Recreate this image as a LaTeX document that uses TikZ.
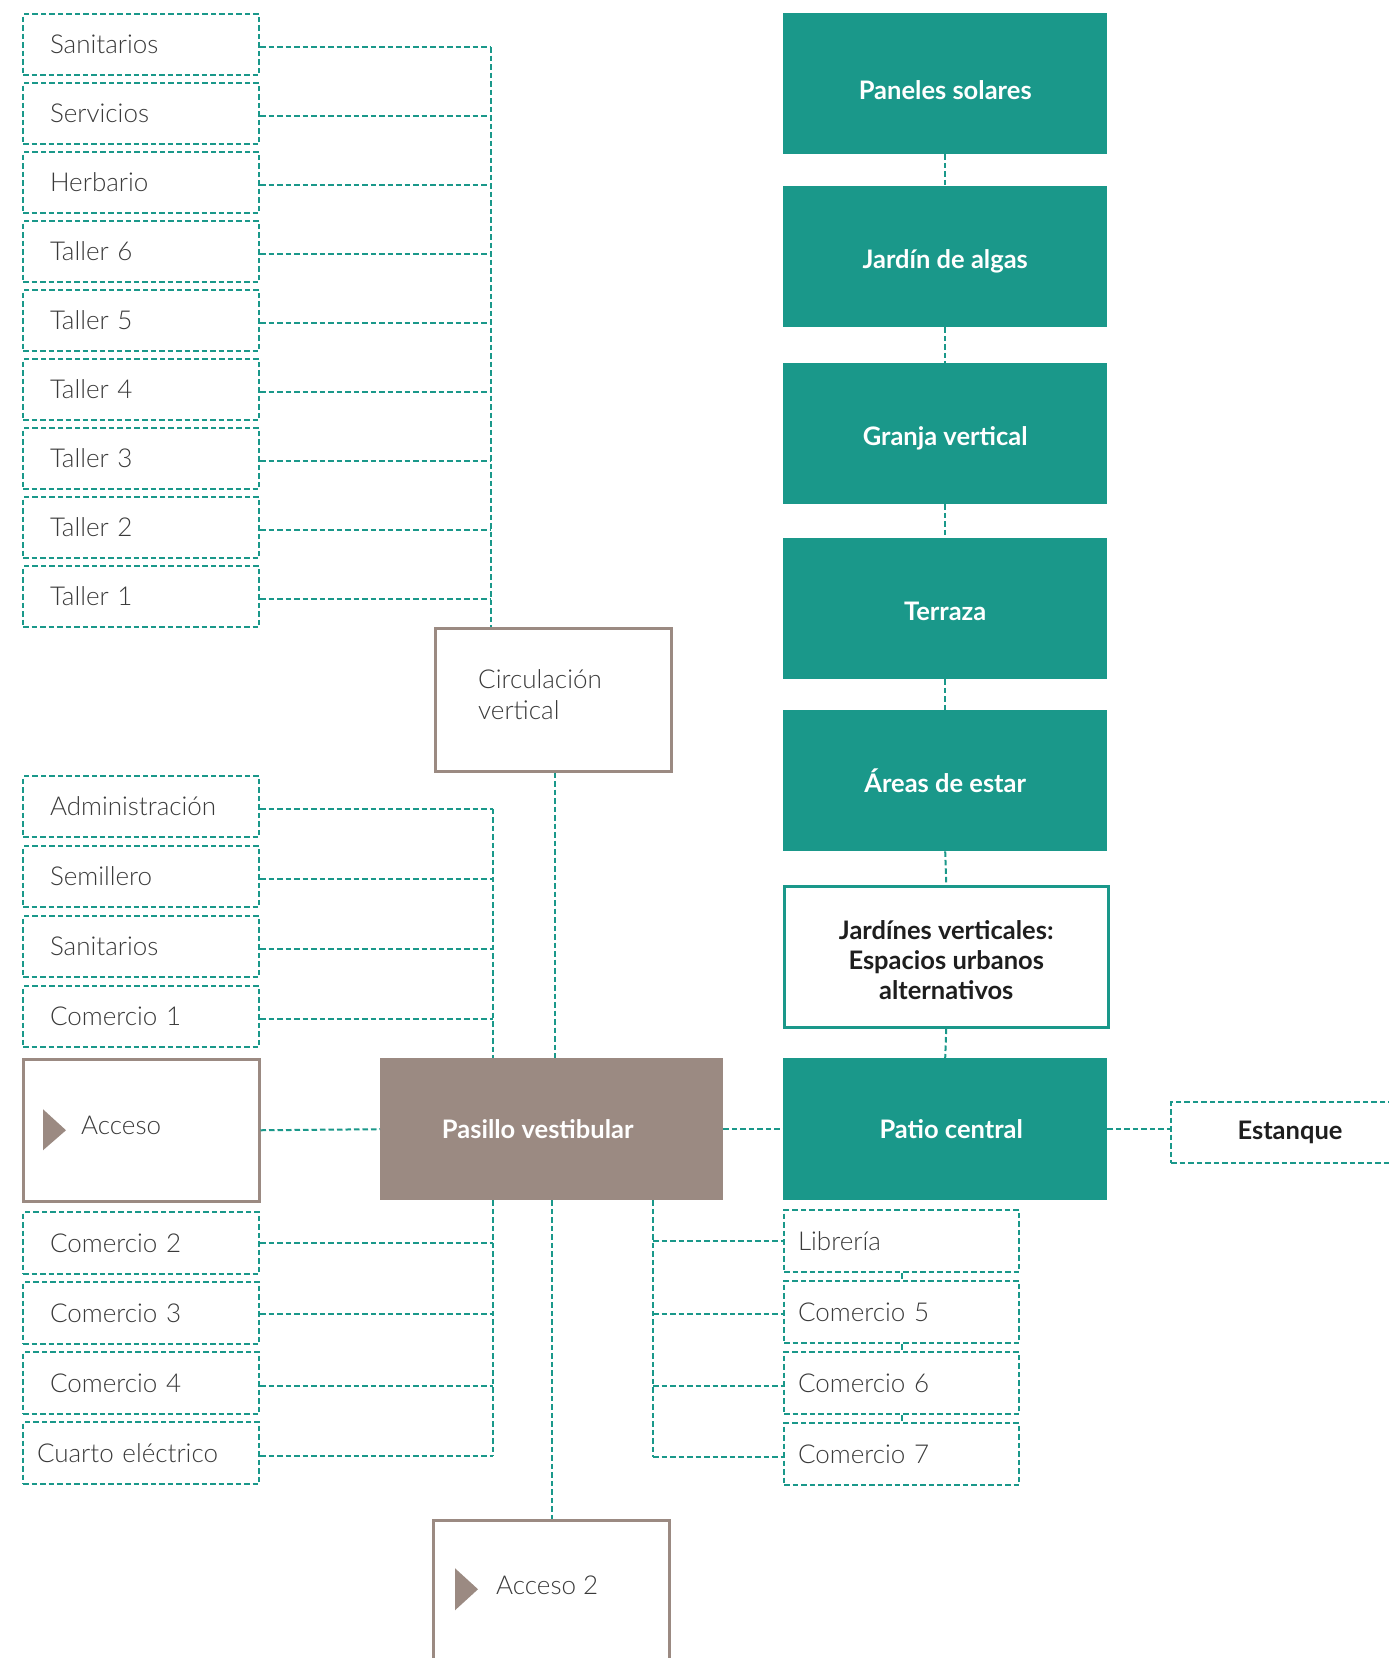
\documentclass[tikz,border=0pt]{standalone}
\usepackage{fontspec}
\setmainfont{Lato}[UprightFont={* Light},BoldFont={* Bold}]
\definecolor{teal1}{HTML}{1A988A}
\definecolor{brn}{HTML}{9B8A82}
\definecolor{txt}{HTML}{3A3A3A}
\definecolor{dark}{HTML}{1E1E1E}
\begin{document}
\begin{tikzpicture}[x=1pt,y=-1pt,
  conn/.style={draw=teal1, line width=2pt, dash pattern=on 5.5pt off 3pt},
  lbox/.style={conn, rectangle, anchor=north west, minimum height=61pt, inner xsep=27pt, inner ysep=0pt, text width=182pt, align=left, font=\fontsize{26}{30}\selectfont, text=txt},
  rbox/.style={conn, rectangle, anchor=north west, minimum height=62pt, inner xsep=14pt, inner ysep=0pt, text width=207pt, align=left, font=\fontsize{26}{30}\selectfont, text=txt},
  tbox/.style={fill=teal1, rectangle, anchor=north west, minimum width=324pt, minimum height=141pt, inner sep=0pt, text=white, align=center, text height=24pt, text depth=0pt, font=\bfseries\fontsize{25.5}{30.5}\selectfont},
  bbox/.style={draw=brn, line width=2.5pt, fill=white, rectangle, anchor=north west, inner sep=0pt},
  ltxt/.style={anchor=west, inner sep=0pt, text=txt, font=\fontsize{26}{30}\selectfont},
  wtxt/.style={inner sep=0pt, text=white, font=\bfseries\fontsize{25.5}{30}\selectfont},
  dtxt/.style={inner sep=0pt, text=dark, font=\bfseries\fontsize{25.5}{30}\selectfont}
]
\useasboundingbox (0,0) rectangle (1389,1658);
\fill[white] (0,0) rectangle (1389,1658);
\clip (0,0) rectangle (1389,1658);

% ---------- top-left group ----------
\node[lbox] (a1) at (22,13) {Sanitarios};
\node[lbox] (a2) at (22,82) {Servicios};
\node[lbox] (a3) at (22,151) {Herbario};
\node[lbox] (a4) at (22,220) {Taller 6};
\node[lbox] (a5) at (22,289) {Taller 5};
\node[lbox] (a6) at (22,358) {Taller 4};
\node[lbox] (a7) at (22,427) {Taller 3};
\node[lbox] (a8) at (22,496) {Taller 2};
\node[lbox] (a9) at (22,565) {Taller 1};

% ---------- circulation ----------
\node[bbox, minimum width=236pt, minimum height=143pt] (circ) at (434,627) {};
\node[anchor=west, inner sep=0pt, align=left, text=txt, font=\fontsize{26}{30.5}\selectfont] (circt) at ([xshift=44pt,yshift=5pt]circ.west) {Circulación\\vertical};

\coordinate (vA) at (491,0);
\foreach \n in {a1,a2,a3,a4,a5,a6,a7,a8,a9}
  \draw[conn] ([yshift=-2.5pt]\n.east) -- ([yshift=-2.5pt]\n.east -| vA);
\draw[conn] ([yshift=-2.5pt]a1.east -| vA) -- (circ.north -| vA);

% ---------- second group ----------
\node[lbox] (b1) at (22,775) {Administración};
\node[lbox] (b2) at (22,845) {Semillero};
\node[lbox] (b3) at (22,915) {Sanitarios};
\node[lbox] (b4) at (22,985) {Comercio 1};

% ---------- access & hall ----------
\node[bbox, minimum width=236pt, minimum height=142pt] (acc) at (22,1058) {};
\fill[brn] ([xshift=21pt,yshift=21pt]acc.west) -- ([xshift=44pt]acc.west) -- ([xshift=21pt,yshift=-20pt]acc.west) -- cycle;
\node[ltxt] (acct) at ([xshift=59pt,yshift=5pt]acc.west) {Acceso};

\node[fill=brn, rectangle, anchor=north west, minimum width=343pt, minimum height=142pt, inner sep=0pt] (pas) at (380,1058) {};
\node[wtxt] (past) at ([xshift=-14pt]pas.center) {Pasillo vestibular};

\coordinate (vB) at (493,0);
\foreach \n in {b1,b2,b3,b4}
  \draw[conn] ([yshift=-2pt]\n.east) -- ([yshift=-2pt]\n.east -| vB);
\draw[conn] ([yshift=-2pt]b1.east -| vB) -- (pas.north -| vB);

\coordinate (vC) at (555,0);
\draw[conn] (circ.south -| vC) -- (pas.north -| vC);

\draw[conn] (acc.east) -- (pas.west);

% ---------- lower-left group ----------
\node[lbox, minimum height=62pt] (c1) at (22,1211) {Comercio 2};
\node[lbox, minimum height=62pt] (c2) at (22,1281) {Comercio 3};
\node[lbox, minimum height=62pt] (c3) at (22,1351) {Comercio 4};
\node[lbox, minimum height=62pt, inner xsep=14pt, text width=208pt] (c4) at (22,1421) {Cuarto eléctrico};

\foreach \n/\d in {c1/0,c2/-1,c3/-3,c4/-3}
  \draw[conn] ([yshift=\d pt]\n.east) -- ([yshift=\d pt]\n.east -| vB);
\draw[conn] (pas.south -| vB) -- ([yshift=-3pt]c4.east -| vB);

% ---------- access 2 ----------
\node[bbox, minimum width=236pt, minimum height=146pt] (acc2) at (432,1519) {};
\fill[brn] ([xshift=23pt,yshift=25pt]acc2.west) -- ([xshift=46pt,yshift=4pt]acc2.west) -- ([xshift=23pt,yshift=-17pt]acc2.west) -- cycle;
\node[ltxt] (acc2t) at ([xshift=64pt,yshift=8pt]acc2.west) {Acceso 2};
\coordinate (vD) at (552,0);
\draw[conn] (pas.south -| vD) -- (acc2.north -| vD);

% ---------- right column ----------
\node[tbox, text height=32pt] (r1) at (783,13) {Paneles solares};
\node[tbox] (r2) at (783,186) {Jardín de algas};
\node[tbox] (r3) at (783,363) {Granja vertical};
\node[tbox] (r4) at (783,538) {Terraza};
\node[tbox] (r5) at (783,710) {Áreas de estar};
\node[draw=teal1, line width=2.5pt, fill=white, rectangle, anchor=north west, minimum width=324pt, minimum height=141pt, inner sep=0pt] (r6) at (783,885) {};
\node[inner sep=0pt, text=dark, align=center, font=\bfseries\fontsize{25.5}{30}\selectfont] (r6t) at ([yshift=-3pt]r6.center) {Jardínes verticales:\\Espacios urbanos\\alternativos};
\node[fill=teal1, rectangle, anchor=north west, minimum width=324pt, minimum height=142pt, inner sep=0pt] (pat) at (783,1058) {};
\node[wtxt] (patt) at ([xshift=6pt]pat.center) {Patio central};

\foreach \u/\v in {r1/r2,r2/r3,r3/r4,r4/r5,r5/r6,r6/pat}
  \draw[conn] (\u.south) -- (\v.north);

\draw[conn] (pas.east) -- (pat.west);

% ---------- pond ----------
\node[conn, rectangle, anchor=north west, minimum width=238pt, minimum height=61pt, inner sep=0pt] (est) at (1170,1101) {};
\node[dtxt] (estt) at (est.center) {Estanque};
\draw[conn] (pat.east) -- (pat.east -| est.west);

% ---------- right lower group ----------
\node[rbox] (d1) at (783,1209) {Librería};
\node[rbox] (d2) at (783,1280) {Comercio 5};
\node[rbox] (d3) at (783,1351) {Comercio 6};
\node[rbox] (d4) at (783,1422) {Comercio 7};

\coordinate (vE) at (653,0);
\foreach \n/\d in {d1/0,d2/-1.5,d3/-2.5,d4/-2.5}
  \draw[conn] ([yshift=\d pt]\n.west -| vE) -- ([yshift=\d pt]\n.west);
\draw[conn] (pas.south -| vE) -- ([yshift=-2.5pt]d4.west -| vE);

\coordinate (vF) at (902,0);
\foreach \u/\v in {d1/d2,d2/d3,d3/d4}
  \draw[conn] (\u.south -| vF) -- (\v.north -| vF);
\end{tikzpicture}
\end{document}
